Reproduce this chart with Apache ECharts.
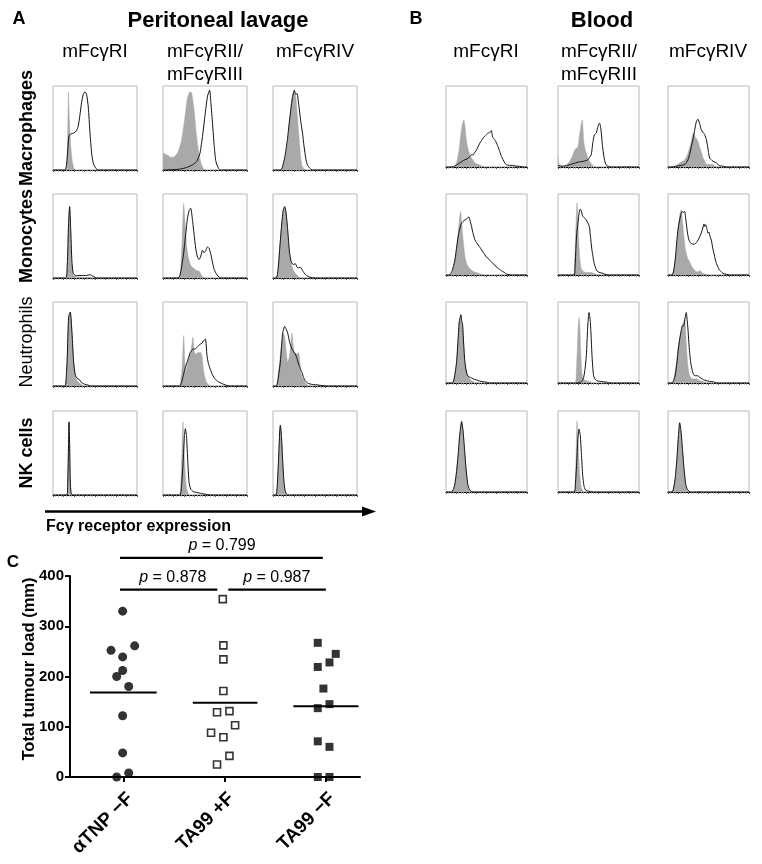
<!DOCTYPE html>
<html>
<head>
<meta charset="utf-8">
<script src="https://cdn.jsdelivr.net/npm/echarts@6.0.0/dist/echarts.min.js"></script>
<style>html,body{margin:0;padding:0;background:#fff}#c{width:762px;height:864px}</style>
</head>
<body>
<div id="c"></div>
<script>
// ---------------- DATA ----------------
// Histograms: [x % of panel width, y % of panel height]; iso = grey isotype fill, ab = black antibody line
// Peritoneal lavage (A)
const pMacRI_iso = [[0,0],[15,0],[17,20],[18.5,93],[19.5,60],[21,30],[23,10],[25,2],[27,0],[100,0]];
const pMacRI_ab = [[0,0],[14,0],[16,5],[18,30],[19,40],[21,43],[25,44],[28,47],[30,52],[32,65],[34,80],[36,90],[38,93],[40,90],[42,75],[44,45],[46,20],[48,8],[51,2],[54,0],[100,0]];
const pMacRII_iso = [[0,20],[5,18],[10,15],[14,16],[18,22],[22,35],[26,62],[29,85],[32,93],[34,92],[37,72],[40,40],[43,18],[46,6],[50,0],[100,0]];
const pMacRII_ab = [[0,0],[20,1],[28,3],[35,6],[40,10],[44,20],[47,40],[50,65],[53,88],[55.5,95],[57,80],[59,55],[61,28],[63,10],[66,2],[68,0],[100,0]];
const pMacRIV_iso = [[0,0],[9,0],[12,5],[15,18],[18,40],[21,72],[23,88],[25,93],[27,88],[29,65],[31,40],[33,15],[35,4],[38,1],[40,0],[100,0]];
const pMacRIV_ab = [[0,0],[9,0],[11,3],[14,15],[17,35],[20,62],[23,85],[25.4,95],[27,90],[28.6,91],[31,75],[33,58],[35,45],[37,28],[39,14],[41,6],[44,2],[47,0],[100,0]];

const pMonRI_iso = [[0,0],[15,0],[17,15],[18.5,60],[19.8,85],[21,55],[22,20],[24,5],[26,2],[35,1],[45,1],[50,0],[100,0]];
const pMonRI_ab = [[0,0],[15,0],[17,15],[18.5,65],[19.8,85],[21,60],[22.5,20],[24,6],[27,3],[32,3],[40,3],[44,4],[48,2],[52,0],[100,0]];
const pMonRII_iso = [[0,0],[19,0],[21,10],[23,50],[24.6,89],[26,70],[28,40],[30,25],[33,15],[36,12],[40,9],[43,8],[46,3],[49,0],[100,0]];
const pMonRII_ab = [[0,0],[18,0],[20,3],[22,12],[24.6,30],[27,52],[29,70],[31,80],[33,83],[35,70],[37,52],[39,35],[41,25],[43,22],[45,26],[47,33],[49,30],[51,33],[53,37],[55,35],[57,28],[59,18],[61,10],[64,4],[67,1],[70,0],[100,0]];
const pMonRIV_iso = [[0,0],[4,0],[6,10],[8,35],[10,60],[12,78],[13.9,84],[15.5,78],[17.5,57],[19.5,30],[21.5,18],[24,10],[27,5],[30,2],[33,0],[100,0]];
const pMonRIV_ab = [[0,0],[4,0],[6,10],[8,35],[10,60],[12,80],[13.9,85],[15.5,78],[17.5,57],[19.5,32],[21.5,20],[24,16],[26.6,17],[28.5,13],[30.5,12],[32.5,13],[34.5,10],[37,6],[40,3],[44,1],[50,0],[100,0]];

const pNeuRI_iso = [[0,0],[14,0],[16,15],[17,35],[18.6,80],[20.6,87],[22.6,63],[24.6,28],[26.6,12],[29,6],[32,3],[35,1],[38,0],[100,0]];
const pNeuRI_ab = [[0,0],[14,0],[16,15],[17,35],[18.6,82],[20.6,88],[22.6,63],[24.6,28],[26.6,13],[29,9],[31,8],[34,4],[38,2],[42,1],[45,0],[100,0]];
const pNeuRII_iso = [[0,0],[19,0],[21,5],[23,25],[24.6,60],[26,30],[27,16],[29,25],[31,35],[33,40],[35.7,58],[37,42],[39,38],[42,40],[45,40],[46.5,35],[48.4,18],[50,10],[52,4],[55,1],[57,0],[100,0]];
const pNeuRII_ab = [[0,0],[20,0],[22,4],[24,12],[26,20],[28.6,28],[30.5,34],[32.5,40],[34,42],[35.7,44],[38,44],[40.5,46],[42.5,48],[44.4,50],[46.5,51],[48.4,54],[50.4,56],[52.4,36],[54,27],[56.3,20],[59,13],[62.3,8],[66,5],[70,3],[75,1],[80,0],[100,0]];
const pNeuRIV_iso = [[0,0],[4,0],[6,12],[8.7,36],[11,55],[12.7,63],[14.7,52],[16,38],[17.5,28],[19.5,35],[21,48],[22.6,63],[24,48],[25.5,40],[28.6,38],[30.5,40],[32,28],[33,16],[35,10],[38.5,4],[41,1],[43,0],[100,0]];
const pNeuRIV_ab = [[0,0],[4,0],[6,8],[8.7,28],[10,45],[11.5,63],[13.9,71],[15.5,68],[17.5,63],[19.8,52],[22.6,44],[24.5,41],[26.6,38],[28.5,33],[30.5,26],[32.5,21],[34.5,16],[36.5,10],[38.5,6],[42,3],[46.4,2],[55,1],[64,0],[100,0]];

const pNkRI_iso = [[0,0],[16.5,0],[17.5,15],[18.5,60],[19,85],[19.8,60],[20.6,15],[21.5,2],[23,0],[100,0]];
const pNkRI_ab = [[0,0],[16.5,0],[17.5,15],[18.5,60],[19,87],[19.8,60],[20.6,15],[21.5,3],[23,0],[100,0]];
const pNkRII_iso = [[0,0],[19.5,0],[21,10],[22.5,50],[23.8,87],[25,55],[26.5,25],[28,8],[30,2],[32,0],[100,0]];
const pNkRII_ab = [[0,0],[20,0],[22,10],[24,40],[25.5,70],[26.6,79],[28,70],[29.5,40],[31,15],[33,7],[36,4],[40,3],[45,2],[50,1],[58,0],[100,0]];
const pNkRIV_iso = [[0,0],[3.5,0],[5,10],[6.5,40],[8,75],[8.7,82],[10,70],[11.5,40],[13,15],[14.5,4],[16,0],[100,0]];
const pNkRIV_ab = [[0,0],[3.5,0],[5,10],[6.5,40],[8,76],[8.7,83],[10,71],[11.5,41],[13,16],[14.5,5],[16,1],[17,0],[100,0]];

// Blood (B)
const bMacRI_iso = [[0,0],[10,0],[13,5],[16,20],[18,38],[20,52],[22,58],[23.5,50],[24.6,38],[26,28],[27.5,21],[30,14],[33,9],[36,5],[40,3],[45,1],[50,0],[100,0]];
const bMacRI_ab = [[0,0],[8,0],[12,2],[17,5],[20,7],[23.4,9],[26,10],[29.5,13],[31.5,15],[33.6,15],[35.5,18],[37.7,21],[39.5,25],[41.8,29.5],[44,33],[45.9,36],[48,38],[50,40],[52,42],[53.3,42],[55,44],[56,45],[57,40],[58,36],[60,34],[61.5,31.5],[63,28],[64.3,25],[66.4,19],[68.5,13],[70.5,9],[72.5,5],[74.6,3],[78,2],[82,2],[86,1],[90,1],[95,0],[100,0]];
const bMacRII_iso = [[0,13],[1,4],[3,1],[8,1],[12,4],[15,8],[18,14],[20.6,21],[23,23],[24.7,25],[26,35],[27.6,46],[29,55],[30,58],[31,45],[32,30],[34,20],[35,17],[37,11],[39,7],[41,4],[43,2],[47,0],[100,0]];
const bMacRII_ab = [[0,2],[5,1],[12,2],[18.5,4],[25,6],[31,7],[35,8],[37,9],[39,12],[41,15],[42,22],[43,30],[44,36],[45,40],[46,41],[47.3,42],[48.5,47],[49.4,50],[50.5,53],[51.4,54],[52.5,50],[53.5,42],[54.5,30],[55.5,21],[57,11],[58.4,5],[60,2],[62,1],[64,0],[100,0]];
const bMacRIV_iso = [[0,0],[5,0],[9,1],[14.4,5],[18,7],[20.6,9],[23,13],[24.7,17],[27,25],[28.8,31.5],[30,38],[31.7,42],[33,39],[34,36],[36,34],[37,31.5],[39,25],[41,19],[43,12],[45.3,7],[47,4],[49.4,3],[53,3],[55.5,3],[58,1],[62,0],[100,0]];
const bMacRIV_ab = [[0,0],[5,0],[10,1],[16,2],[20.6,3],[23,6],[24.7,9],[27,17],[28.8,25],[31,35],[33,46],[35,56],[37,59],[39,54],[41,46],[43,43],[45.3,40],[47.3,34],[49,25],[50,18],[51.4,11],[53.5,9],[55.5,7],[58,6],[59.7,5],[62,3],[63.8,1.6],[68,1],[72,0],[100,0]];

const bMonRI_iso = [[0,0],[6,0],[8,5],[11,18.6],[13,33],[15,51.7],[16.5,68],[18,78.5],[19,68],[20,55.8],[21.5,40],[23.4,22.7],[25,15],[27.5,10],[29.5,8],[31.5,6],[34,4],[37.7,3],[41,2],[44,1],[48,0],[100,0]];
const bMonRI_ab = [[0,0],[4,0],[7,4],[9,10],[11,18.6],[13,33],[15,47.5],[17,57],[19.3,64],[21,66],[23.4,68],[25.5,69],[27,71],[28.3,71.5],[29.5,68],[31.5,60],[33.5,51],[35.7,43.4],[37.7,40],[39.8,37],[42,34],[43.9,31],[46,28],[48,24.8],[50,22],[52,20.7],[54,18],[56,16.5],[58,14],[60.2,12.4],[62,10],[64.3,8.3],[66,7],[68.4,5.4],[70.5,4],[72.5,2.9],[75,1],[78,0.5],[80,0],[100,0]];
const bMonRII_iso = [[0,0],[19,0],[20.5,15],[22,55],[23.5,89],[24.5,70],[26,35],[27.5,15],[29,7],[32,4],[36,3],[40,3],[44,2],[48,1],[52,0],[100,0]];
const bMonRII_ab = [[0,0],[20,0],[21,10],[22,30],[22.6,43],[23.5,55],[24.7,64],[25.7,74],[26.7,80.6],[27.7,81],[28.8,79],[30,74],[30.9,72],[33,70],[35,68],[37,64],[38,62],[39,58],[40,48],[41,39],[42,30],[43.2,22.7],[44.5,15],[46,10],[47.5,6],[49.4,4],[52,3],[55.5,2],[58,1],[62,0],[100,0]];
const bMonRIV_iso = [[0,0],[5,0],[7,5],[9,18],[11,40],[12.3,55.8],[14,70],[15.2,78],[16.5,80.6],[17.5,70],[18.5,60],[20,45],[21,35],[22.6,27],[24.5,20],[26.7,16.5],[29,11],[30.9,8.3],[33,6],[35,4],[37,4],[39,5.4],[41,4],[43.2,2],[47.3,1],[51,0],[100,0]];
const bMonRIV_ab = [[0,0],[5,0],[7,5],[9,20],[11,43],[12.5,57],[14.4,68],[16,75],[17.7,78.5],[19,77],[20.6,78.5],[21.5,72],[22.6,64],[24,52],[25.9,43],[27.5,40],[28.8,39],[31,38],[33,38.4],[35,40],[37,43],[39,47],[41,51.7],[43,58],[44.4,63],[45.5,60],[46.5,62],[47.3,60],[48.5,55],[49.4,51.7],[50.4,53],[51.4,49.6],[52.5,46],[53.5,43],[55.5,32],[57.6,22.7],[59.5,15],[61.7,10],[63.5,6],[65.8,4],[68,2],[72,1],[76,0],[100,0]];

const bNeuRI_iso = [[0,0],[8,0],[10,5],[13,25],[15,55],[16.4,74.6],[18.4,83.6],[19.5,75],[20.5,70.5],[22,45],[23.4,25],[25.5,14],[27.5,7],[29.5,5],[31.5,3],[35,1],[40,0],[100,0]];
const bNeuRI_ab = [[0,0],[8,0],[10,5],[13,25],[15,55],[16.4,76],[18.4,84.4],[19.5,76],[20.5,72],[22,45],[23.4,25],[25.5,12],[27.5,8],[30,7],[33.6,5],[37,4],[39.8,3],[43,2],[46,1.6],[50,1],[55,0],[100,0]];
const bNeuRII_iso = [[0,0],[21,0],[22.5,12],[24,45],[25,70],[26,80.7],[27,70],[28,40],[29.5,12],[31,5],[34,3],[38,2],[42,1],[46,0],[100,0]];
const bNeuRII_ab = [[0,0],[24,0],[28,1],[30,3],[31.7,7],[33.5,18],[35,33.6],[36,55],[37,74.6],[38.3,87],[39.2,82],[40,74.6],[41,55],[42,33.6],[43,18],[44,9],[45.5,5],[47.3,3],[52,2],[56,1.5],[60,1],[65,0],[100,0]];
const bNeuRIV_iso = [[0,0],[5,0],[7,4],[9,15],[11,30],[12.3,42],[14.5,55],[16.5,66],[18.5,74],[20.6,78.7],[22,60],[23.5,33.6],[25,18],[26.7,9],[28.5,6],[30.9,5],[33,5],[35,5.7],[37,4],[39,3],[43,2],[47.3,1],[52,0],[100,0]];
const bNeuRIV_ab = [[0,0],[5,0],[7,3],[9,10],[11,25],[12.5,40],[14.4,54],[16,63],[17.7,70.5],[19.3,70.5],[21,80],[22.6,87],[23.6,78],[24.7,66],[25.7,50],[26.7,37.7],[28,25],[29.6,17],[31,12],[33,9],[35,9],[37,9],[39,7],[41,5.7],[44,4],[47.3,3],[51,2],[55.5,1.6],[60,0],[100,0]];

const bNkRI_iso = [[0,0],[7,0],[9,3],[11,10],[13,25],[15,45],[17,70],[19.3,86],[21,75],[23,50],[25,25],[27,8],[29,2],[31,0],[100,0]];
const bNkRI_ab = [[0,0],[7,0],[9,3],[11,10],[13,25],[15,46],[17,71],[19.3,87],[21,76],[23,51],[25,26],[27,9],[29,3],[31,1],[33,0],[100,0]];
const bNkRII_iso = [[0,0],[20,0],[21.5,15],[22.5,55],[23.5,88],[24.5,70],[25.5,45],[27,20],[28.8,5],[31,1],[33,0],[100,0]];
const bNkRII_ab = [[0,0],[20,0],[21.5,10],[23,35],[24.5,65],[26,77.7],[27.5,70],[29,45],[30.5,20],[32,8],[33.5,3],[36,1.5],[40,0.5],[44,0],[100,0]];
const bNkRIV_iso = [[0,0],[5,0],[7,5],[9,18],[11,40],[13,70],[14.4,85],[16,75],[18,50],[20,25],[22,8],[24,2],[26,0],[100,0]];
const bNkRIV_ab = [[0,0],[5,0],[7,5],[9,18],[11,41],[13,71],[14.4,85.5],[16,76],[18,51],[20,26],[22,9],[24,3],[26,1],[28,0],[100,0]];

// Panel C: tumour load
const groupNames = ['αTNP −F', 'TA99 +F', 'TA99 −F'];
const aTNP_minusF = [[0.991,330],[0.876,252],[1.110,261],[0.991,239],[0.991,212],[0.932,200],[1.051,180],[0.991,122],[0.991,48],[0.932,0],[1.051,8]];
const TA99_plusF = [[1.982,354],[1.988,262],[1.988,234],[1.988,171],[1.925,129],[2.048,131],[2.104,103],[1.866,88],[1.988,79],[2.048,42],[1.925,25]];
const TA99_minusF = [[2.922,267],[3.100,245],[3.038,228],[2.922,219],[2.978,176],[2.922,137],[3.038,145],[2.922,71],[3.038,60],[2.922,0],[3.038,0]];
const medianValues = [168, 148, 141];
const medianSpans = [[0.668,1.328],[1.685,2.325],[2.681,3.325]];
const pBars = [
  {from:0.965, to:2.972, mid:1.975, y:436, text:'0.799'},
  {from:0.965, to:1.928, mid:1.487, y:373, text:'0.878'},
  {from:2.037, to:3.002, mid:2.516, y:373, text:'0.987'}
];
const rowLabels = ['Macrophages','Monocytes','Neutrophils','NK cells'];
const colLabels = ['mFcγRI','mFcγRII/\nmFcγRIII','mFcγRIV'];

// -------------- LAYOUT --------------
const FONT = 'Arial, "Liberation Sans", Helvetica, sans-serif';
const A = [[pMacRI_iso,pMacRI_ab],[pMacRII_iso,pMacRII_ab],[pMacRIV_iso,pMacRIV_ab],
           [pMonRI_iso,pMonRI_ab],[pMonRII_iso,pMonRII_ab],[pMonRIV_iso,pMonRIV_ab],
           [pNeuRI_iso,pNeuRI_ab],[pNeuRII_iso,pNeuRII_ab],[pNeuRIV_iso,pNeuRIV_ab],
           [pNkRI_iso,pNkRI_ab],[pNkRII_iso,pNkRII_ab],[pNkRIV_iso,pNkRIV_ab]];
const B = [[bMacRI_iso,bMacRI_ab],[bMacRII_iso,bMacRII_ab],[bMacRIV_iso,bMacRIV_ab],
           [bMonRI_iso,bMonRI_ab],[bMonRII_iso,bMonRII_ab],[bMonRIV_iso,bMonRIV_ab],
           [bNeuRI_iso,bNeuRI_ab],[bNeuRII_iso,bNeuRII_ab],[bNeuRIV_iso,bNeuRIV_ab],
           [bNkRI_iso,bNkRI_ab],[bNkRII_iso,bNkRII_ab],[bNkRIV_iso,bNkRIV_ab]];
const rowTops = [86, 194, 302, 411];
const aLefts = [53, 163, 273], aSize = 84;
const bLefts = [446, 558, 668], bSize = 81;

const grids = [], xAxes = [], yAxes = [], series = [];
function addPanel(data, left, top, size) {
  const i = grids.length;
  grids.push({left, top, width:size, height:size, show:true, borderColor:'#b8b8b8', borderWidth:1, containLabel:false});
  xAxes.push({gridIndex:i, type:'value', min:0, max:100, interval:12.5,
    axisLine:{show:true, onZero:false, lineStyle:{color:'#000', width:1.2}},
    axisTick:{show:true, length:2, lineStyle:{color:'#555', width:1}},
    minorTick:{show:true, splitNumber:4, length:1.5, lineStyle:{color:'#888'}},
    axisLabel:{show:false}, splitLine:{show:false}});
  yAxes.push({gridIndex:i, type:'value', min:0, max:100, show:false, splitLine:{show:false}});
  series.push({type:'line', xAxisIndex:i, yAxisIndex:i, data:data[0], symbol:'none', smooth:0.2, silent:true,
    lineStyle:{width:0.5, color:'#a9a9a9'}, areaStyle:{color:'#a9a9a9', opacity:1}, z:2});
  series.push({type:'line', xAxisIndex:i, yAxisIndex:i, data:data[1], symbol:'none', smooth:0.2, silent:true,
    lineStyle:{width:1, color:'#111'}, z:3});
}
A.forEach((d, k) => addPanel(d, aLefts[k % 3], rowTops[Math.floor(k / 3)], aSize));
B.forEach((d, k) => addPanel(d, bLefts[k % 3], rowTops[Math.floor(k / 3)], bSize));

// Panel C
const ci = grids.length;
grids.push({left:70, top:576, width:290, height:201, show:false, containLabel:false});
xAxes.push({gridIndex:ci, type:'value', min:0.47, max:3.34,
  axisLine:{show:true, onZero:false, lineStyle:{color:'#000', width:2}},
  axisTick:{show:true, customValues:[1,2,3], length:5, lineStyle:{color:'#000', width:2}},
  axisLabel:{show:true, customValues:[1,2,3], formatter:v => groupNames[Math.round(v) - 1], rotate:45,
    verticalAlign:'top', fontFamily:FONT, fontWeight:'bold', fontSize:19, color:'#000', margin:12},
  splitLine:{show:false}});
yAxes.push({gridIndex:ci, type:'value', min:0, max:400, interval:100,
  axisLine:{show:true, lineStyle:{color:'#000', width:2}},
  axisTick:{show:true, length:5, lineStyle:{color:'#000', width:2}},
  axisLabel:{fontFamily:FONT, fontWeight:'bold', fontSize:15, color:'#000', margin:6},
  splitLine:{show:false}});
series.push({type:'scatter', xAxisIndex:ci, yAxisIndex:ci, data:aTNP_minusF, symbol:'circle', symbolSize:9,
  itemStyle:{color:'#000'}, z:5});
series.push({type:'scatter', xAxisIndex:ci, yAxisIndex:ci, data:TA99_plusF, symbol:'rect', symbolSize:7,
  itemStyle:{color:'#fff', borderColor:'#000', borderWidth:1.6}, z:5});
series.push({type:'scatter', xAxisIndex:ci, yAxisIndex:ci, data:TA99_minusF, symbol:'rect', symbolSize:8,
  itemStyle:{color:'#000'}, z:5});
medianValues.forEach((m, k) => {
  series.push({type:'line', xAxisIndex:ci, yAxisIndex:ci, symbol:'none', silent:true, z:4,
    data:[[medianSpans[k][0], m],[medianSpans[k][1], m]], lineStyle:{color:'#000', width:2}});
});
pBars.forEach(b => {
  series.push({type:'line', xAxisIndex:ci, yAxisIndex:ci, symbol:'none', silent:true, clip:false, z:4,
    lineStyle:{color:'#000', width:2.2}, data:[[b.from, b.y], [b.to, b.y]]});
});

// -------------- TEXT / DECOR --------------
const graphic = [];
function txt(x, y, s, size, bold, opts) {
  graphic.push(Object.assign({type:'text', x, y, silent:true, style:{text:s, fontFamily:FONT, fontSize:size,
    fontWeight:bold ? 'bold' : 'normal', fill:'#000', textAlign:'center', textVerticalAlign:'middle', lineHeight:23}}, opts || {}));
}
txt(19, 19, 'A', 18, true);
txt(218, 21, 'Peritoneal lavage', 22, true);
txt(416, 19, 'B', 18, true);
txt(602, 21, 'Blood', 22, true);
const aCenters = [95, 205, 315], bCenters = [486, 599, 708];
[aCenters, bCenters].forEach(cs => {
  cs.forEach((cx, k) => txt(cx, k === 1 ? 63.5 : 52, colLabels[k], 19, false));
});
const rowCenters = [128, 236, 342, 453];
rowLabels.forEach((s, k) => {
  graphic.push({type:'text', x:27, y:rowCenters[k], rotation:Math.PI / 2, silent:true,
    style:{text:s, fontFamily:FONT, fontSize:18, fontWeight:k === 2 ? 'normal' : 'bold', fill:'#000',
      textAlign:'center', textVerticalAlign:'middle'}});
});
// expression arrow
graphic.push({type:'line', silent:true, shape:{x1:45, y1:511.5, x2:366, y2:511.5}, style:{stroke:'#000', lineWidth:2.5}});
graphic.push({type:'polygon', silent:true, shape:{points:[[362,506.5],[376,511.5],[362,516.5]]}, style:{fill:'#000'}});
graphic.push({type:'text', x:46, y:527, silent:true, style:{text:'Fcγ receptor expression', fontFamily:FONT, fontSize:16,
  fontWeight:'bold', fill:'#000', textAlign:'left', textVerticalAlign:'middle'}});
// panel C
txt(13, 562, 'C', 17, true);
graphic.push({type:'text', x:29, y:669, rotation:Math.PI / 2, silent:true,
  style:{text:'Total tumour load (mm)', fontFamily:FONT, fontSize:16.5, fontWeight:'bold', fill:'#000',
    textAlign:'center', textVerticalAlign:'middle'}});

const chart = echarts.init(document.getElementById('c'), null, {renderer:'canvas'});
chart.setOption({animation:false, backgroundColor:'#fff', grid:grids, xAxis:xAxes, yAxis:yAxes, series, graphic});

// p-value labels placed through the panel C scales
const pLabels = pBars.map(b => {
  const pt = chart.convertToPixel({xAxisIndex:ci, yAxisIndex:ci}, [b.mid, b.y]);
  return {type:'text', x:pt[0], y:pt[1] - 12, silent:true, z:10,
    style:{text:'{i|p} = ' + b.text, fontFamily:FONT, fontSize:16, fill:'#000', textAlign:'center', textVerticalAlign:'middle',
      rich:{i:{fontStyle:'italic', fontFamily:FONT, fontSize:16, fill:'#000'}}}};
});
chart.setOption({graphic:graphic.concat(pLabels)});
</script>
</body>
</html>
